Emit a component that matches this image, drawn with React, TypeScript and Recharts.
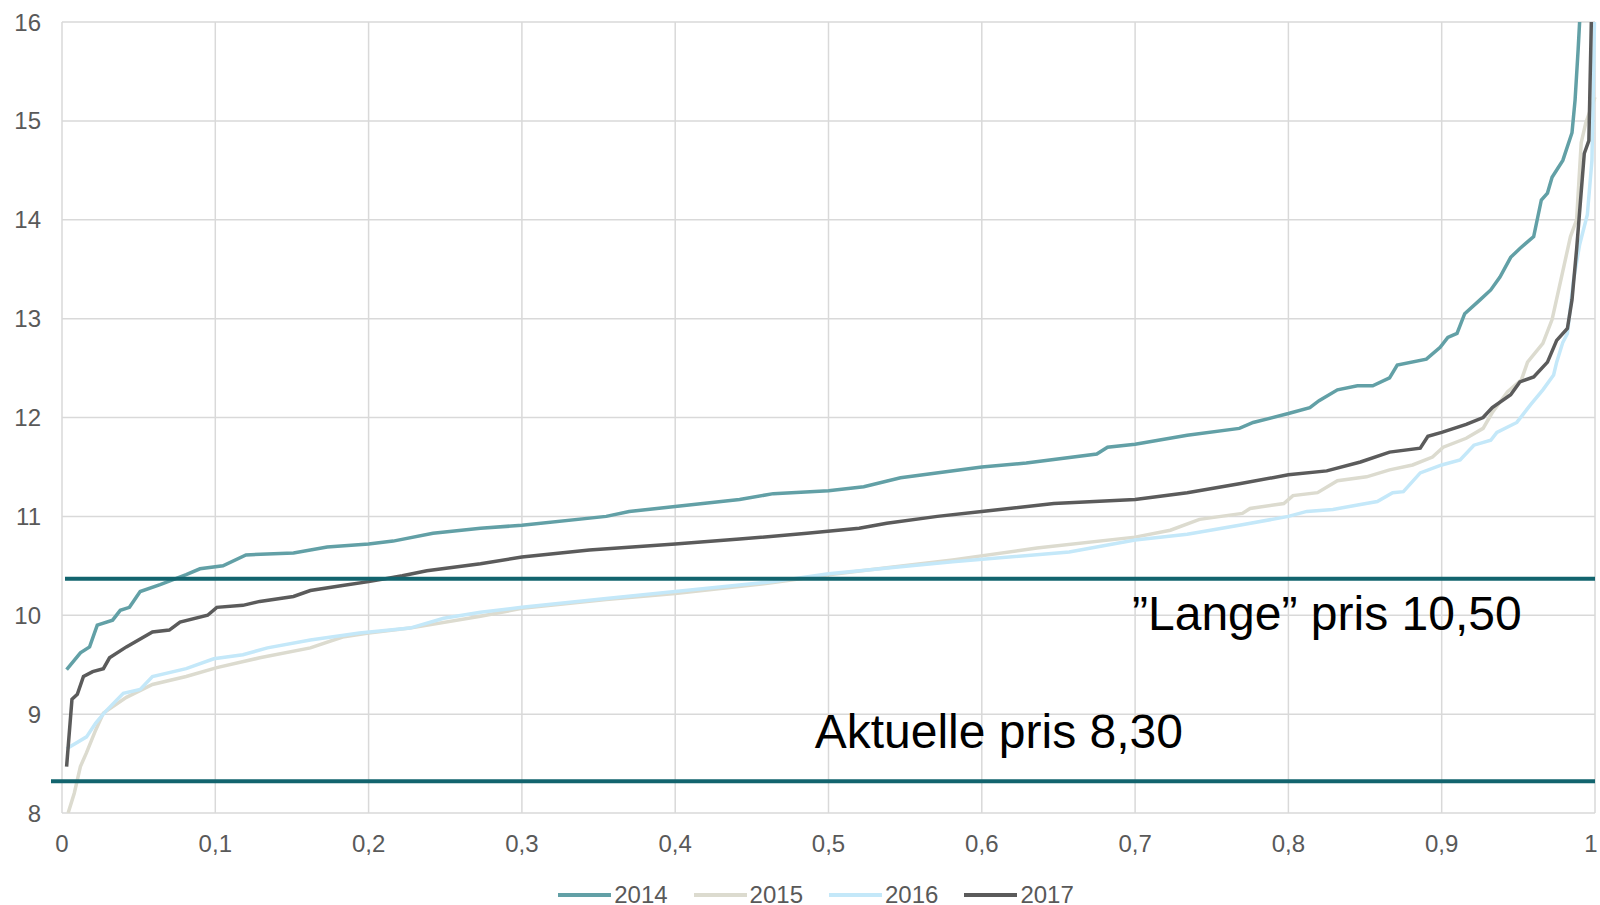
import {
  CartesianGrid,
  Label,
  Legend,
  Line,
  LineChart,
  ReferenceLine,
  XAxis,
  YAxis,
} from 'recharts'

type Pt = [number, number]

// price distributions: share of hours (x) vs price (y)
const s2014: Pt[] = [
  [0.003, 9.45], [0.012, 9.62], [0.018, 9.68], [0.023, 9.9], [0.033, 9.95], [0.038, 10.05],
  [0.044, 10.08], [0.051, 10.24], [0.064, 10.31], [0.081, 10.41], [0.09, 10.47], [0.105, 10.5],
  [0.12, 10.61], [0.151, 10.63], [0.173, 10.69], [0.2, 10.72], [0.216, 10.75], [0.242, 10.83],
  [0.273, 10.88], [0.3, 10.91], [0.355, 11.0], [0.37, 11.05], [0.4, 11.1], [0.442, 11.17],
  [0.464, 11.23], [0.5, 11.26], [0.523, 11.3], [0.547, 11.39], [0.6, 11.5], [0.629, 11.54],
  [0.675, 11.63], [0.682, 11.7], [0.7, 11.73], [0.734, 11.82], [0.768, 11.89], [0.777, 11.95],
  [0.8, 12.04], [0.814, 12.1], [0.82, 12.17], [0.832, 12.28], [0.845, 12.32], [0.855, 12.32],
  [0.866, 12.4], [0.871, 12.53], [0.89, 12.59], [0.899, 12.71], [0.904, 12.81], [0.91, 12.85],
  [0.915, 13.05], [0.925, 13.19], [0.932, 13.29], [0.938, 13.42], [0.945, 13.62], [0.951, 13.71],
  [0.96, 13.83], [0.965, 14.2], [0.969, 14.27], [0.972, 14.43], [0.979, 14.6], [0.985, 14.88],
  [0.987, 15.21], [0.989, 15.72], [0.991, 16.3],
]

const s2015: Pt[] = [
  [0.004, 8.0], [0.008, 8.2], [0.012, 8.47], [0.016, 8.61], [0.022, 8.84], [0.027, 9.01],
  [0.042, 9.17], [0.059, 9.3], [0.081, 9.38], [0.101, 9.47], [0.129, 9.57], [0.162, 9.67],
  [0.183, 9.78], [0.2, 9.82], [0.227, 9.87], [0.273, 9.99], [0.3, 10.07], [0.355, 10.16],
  [0.4, 10.22], [0.464, 10.33], [0.5, 10.41], [0.538, 10.48], [0.581, 10.56], [0.636, 10.68],
  [0.7, 10.79], [0.723, 10.86], [0.742, 10.97], [0.77, 11.03], [0.775, 11.08], [0.797, 11.13],
  [0.803, 11.21], [0.819, 11.24], [0.832, 11.36], [0.851, 11.4], [0.866, 11.47], [0.881, 11.52],
  [0.894, 11.6], [0.901, 11.7], [0.916, 11.79], [0.927, 11.89], [0.933, 12.05], [0.943, 12.26],
  [0.952, 12.38], [0.956, 12.56], [0.966, 12.75], [0.972, 12.99], [0.975, 13.2], [0.984, 13.83],
  [0.988, 14.0], [0.991, 14.78], [0.994, 14.98], [1.0, 15.24],
]

const s2016: Pt[] = [
  [0.003, 8.65], [0.016, 8.77], [0.022, 8.91], [0.028, 9.02], [0.04, 9.21], [0.051, 9.25],
  [0.059, 9.38], [0.081, 9.46], [0.099, 9.56], [0.118, 9.6], [0.134, 9.67], [0.162, 9.75],
  [0.194, 9.82], [0.227, 9.87], [0.249, 9.97], [0.273, 10.03], [0.3, 10.08], [0.355, 10.17],
  [0.4, 10.24], [0.464, 10.34], [0.5, 10.42], [0.581, 10.54], [0.657, 10.64], [0.7, 10.76],
  [0.734, 10.82], [0.768, 10.91], [0.8, 11.0], [0.812, 11.05], [0.829, 11.07], [0.847, 11.12],
  [0.858, 11.15], [0.868, 11.24], [0.875, 11.25], [0.886, 11.44], [0.9, 11.52], [0.912, 11.57],
  [0.921, 11.72], [0.932, 11.77], [0.936, 11.85], [0.949, 11.95], [0.958, 12.13], [0.966, 12.28],
  [0.973, 12.43], [0.975, 12.56], [0.979, 12.76], [0.982, 12.85], [0.986, 13.39], [0.99, 13.75],
  [0.995, 14.05], [0.998, 14.6], [1.0, 16.3],
]

const s2017: Pt[] = [
  [0.003, 8.47], [0.0065, 9.15], [0.01, 9.2], [0.014, 9.38], [0.02, 9.43], [0.027, 9.46],
  [0.031, 9.57], [0.042, 9.68], [0.059, 9.83], [0.07, 9.85], [0.077, 9.93], [0.095, 10.0],
  [0.101, 10.08], [0.118, 10.1], [0.129, 10.14], [0.151, 10.19], [0.162, 10.25], [0.183, 10.3],
  [0.2, 10.34], [0.222, 10.4], [0.238, 10.45], [0.273, 10.52], [0.3, 10.59], [0.344, 10.66],
  [0.4, 10.72], [0.442, 10.77], [0.486, 10.83], [0.52, 10.88], [0.538, 10.93], [0.571, 11.0],
  [0.6, 11.05], [0.647, 11.13], [0.7, 11.17], [0.734, 11.24], [0.768, 11.33], [0.8, 11.42],
  [0.825, 11.46], [0.847, 11.55], [0.866, 11.65], [0.886, 11.69], [0.891, 11.81], [0.9, 11.85],
  [0.916, 11.93], [0.927, 12.0], [0.933, 12.1], [0.945, 12.23], [0.951, 12.36], [0.96, 12.41],
  [0.969, 12.56], [0.975, 12.78], [0.982, 12.9], [0.985, 13.19], [0.988, 13.7], [0.993, 14.67],
  [0.996, 14.8], [0.998, 16.3],
]

const xTicks = [0, 0.1, 0.2, 0.3, 0.4, 0.5, 0.6, 0.7, 0.8, 0.9, 1]
const yTicks = [8, 9, 10, 11, 12, 13, 14, 15, 16]

const longPrice = 10.37
const currentPrice = 8.32
const longLabel = '\u201dLange\u201d pris 10,50'
const currentLabel = 'Aktuelle pris 8,30'

const series = [
  { name: '2014', data: s2014, color: '#62a0a6' },
  { name: '2015', data: s2015, color: '#dcdbcf' },
  { name: '2016', data: s2016, color: '#c4e8f9' },
  { name: '2017', data: s2017, color: '#5b5b5b' },
]

const FONT = '"Liberation Sans", Arial, sans-serif'
const TICK = { fill: '#595959', fontSize: 24 }
const REF_COLOR = '#12646e'

const toRows = (pts: Pt[]) => pts.map(([x, v]) => ({ x, v }))
const fmt = (v: number) => String(v).replace('.', ',')

// x tick; the last label sits at the page edge so keep it inside
function XTick(props: any) {
  const { x, y, payload } = props
  return (
    <text x={Math.min(x, 1591)} y={y} dy="0.71em" textAnchor="middle" fill={TICK.fill} fontSize={TICK.fontSize}>
      {fmt(payload.value)}
    </text>
  )
}

// horizontal price line, optionally running a bit past the y axis
function priceLine(extendLeft: number) {
  return (props: any) => (
    <line
      x1={props.x1 - extendLeft}
      y1={props.y1}
      x2={props.x2}
      y2={props.y2}
      stroke={REF_COLOR}
      strokeWidth={4}
    />
  )
}

function priceText(text: string, at: number, dy: number) {
  return (props: any) => {
    const vb = props.viewBox
    return (
      <text x={vb.x + at * vb.width} y={vb.y + dy} fontSize={48} fill="#000" fontFamily={FONT}>
        {text}
      </text>
    )
  }
}

function LegendRow() {
  return (
    <div style={{ display: 'flex', justifyContent: 'center', gap: 26, height: 20, lineHeight: '20px', paddingLeft: 37 }}>
      {series.map((s) => (
        <span key={s.name} style={{ display: 'flex', alignItems: 'center', fontSize: 24, color: '#595959' }}>
          <span style={{ width: 53, height: 4, background: s.color, marginRight: 3 }} />
          {s.name}
        </span>
      ))}
    </div>
  )
}

export default function App() {
  return (
    <div style={{ position: 'absolute', left: 0, top: 0, width: 1600, height: 905, background: '#fff', fontFamily: FONT }}>
      <LineChart width={1600} height={905} margin={{ top: 22, right: 5, bottom: 0, left: 0 }}>
        <CartesianGrid stroke="#d9d9d9" strokeWidth={1.5} />
        <XAxis
          type="number"
          dataKey="x"
          domain={[0, 1]}
          ticks={xTicks}
          interval={0}
          height={72}
          tickSize={0}
          tickMargin={22}
          axisLine={false}
          tickLine={false}
          tick={<XTick />}
        />
        <YAxis
          type="number"
          domain={[8, 16]}
          ticks={yTicks}
          interval={0}
          allowDataOverflow
          width={62}
          tickSize={0}
          tickMargin={21}
          axisLine={false}
          tickLine={false}
          tick={TICK}
        />
        <Legend verticalAlign="bottom" content={() => <LegendRow />} wrapperStyle={{ height: 20 }} />
        {series.map((s) => (
          <Line
            key={s.name}
            name={s.name}
            data={toRows(s.data)}
            dataKey="v"
            type="linear"
            stroke={s.color}
            strokeWidth={3.5}
            dot={false}
            activeDot={false}
            isAnimationActive={false}
          />
        ))}
        <ReferenceLine y={longPrice} ifOverflow="extendDomain" shape={priceLine(-3)}>
          <Label content={priceText(longLabel, 0.698, 51)} />
        </ReferenceLine>
        <ReferenceLine y={currentPrice} shape={priceLine(11)}>
          <Label content={priceText(currentLabel, 0.491, -33)} />
        </ReferenceLine>
      </LineChart>
    </div>
  )
}
